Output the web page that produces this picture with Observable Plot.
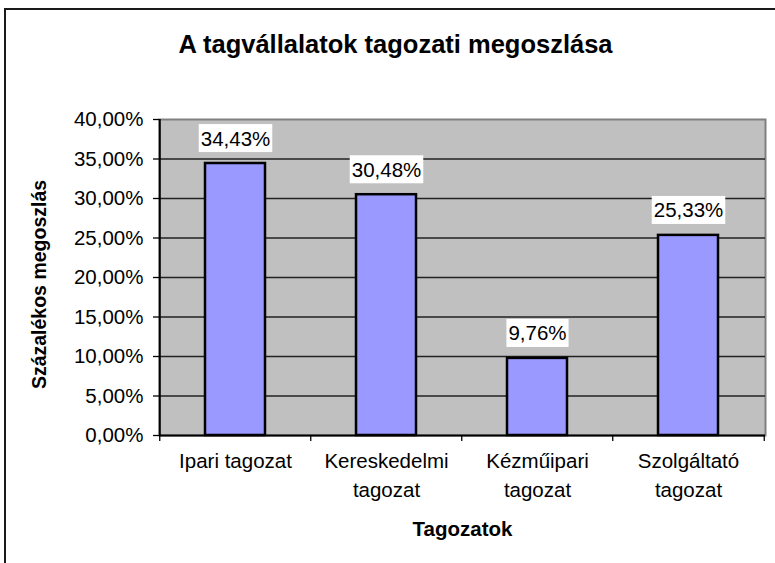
<!DOCTYPE html>
<html><head><meta charset="utf-8">
<script src="https://cdn.jsdelivr.net/npm/d3@7"></script>
<script src="https://cdn.jsdelivr.net/npm/@observablehq/plot@0.6"></script>
<style>
html,body{margin:0;padding:0;background:#fff;}
#wrap{position:relative;width:775px;height:563px;overflow:hidden;}
#frame{position:absolute;left:4px;top:8px;width:800px;height:600px;border-left:2px solid #1a1a1a;border-top:2px solid #1a1a1a;pointer-events:none;}
#chart{position:absolute;left:0;top:0;}
</style></head>
<body><div id="wrap"><div id="chart"></div><div id="frame"></div></div>
<script>
const categories = ["Ipari tagozat", "Kereskedelmi tagozat", "Kézműipari tagozat", "Szolgáltató tagozat"];
const categoryLabels = ["Ipari tagozat", "Kereskedelmi\ntagozat", "Kézműipari\ntagozat", "Szolgáltató\ntagozat"];
const shares = [34.43, 30.48, 9.76, 25.33];
const shareLabels = ["34,43%", "30,48%", "9,76%", "25,33%"];
const yTickValues = [0, 5, 10, 15, 20, 25, 30, 35, 40];
const yTickLabels = ["0,00%", "5,00%", "10,00%", "15,00%", "20,00%", "25,00%", "30,00%", "35,00%", "40,00%"];
const titleText = "A tagvállalatok tagozati megoszlása";
const xTitle = "Tagozatok";
const yTitle = "Százalékos megoszlás";

const W = 775, H = 563, mL = 159, mR = 10, mT = 119, mB = 128;
const step = (W - mL - mR) / categories.length;
const data = categories.map((c, i) => ({cat: c, v: shares[i], txt: shareLabels[i]}));
const font = "'Liberation Sans', Arial, sans-serif";

const plot = Plot.plot({
  width: W, height: H,
  marginLeft: mL, marginRight: mR, marginTop: mT, marginBottom: mB,
  style: {fontFamily: font, fontSize: "20.5px", color: "#000", background: "transparent", overflow: "visible"},
  x: {domain: categories, paddingInner: 0.6, paddingOuter: 0.3, label: null},
  y: {domain: [0, 40], label: null},
  marks: [
    Plot.frame({fill: "#c0c0c0", stroke: "#808080", strokeWidth: 2}),
    Plot.ruleY(yTickValues.slice(1, -1), {stroke: "#222", strokeWidth: 1.3}),
    Plot.barY(data, {x: "cat", y: "v", fill: "#9999ff", stroke: "#000", strokeWidth: 2.5}),
    Plot.ruleY([0], {stroke: "#000", strokeWidth: 2}),
    Plot.ruleX([categories[0]], {x: d => d, dx: -step / 2, y1: 0, y2: 40, stroke: "#000", strokeWidth: 2}),
    Plot.ruleX(categories, {x: d => d, dx: -step / 2, y1: 0, y2: -0.76, stroke: "#000", strokeWidth: 1.3}),
    Plot.ruleX([categories[categories.length - 1]], {x: d => d, dx: step / 2, y1: 0, y2: -0.76, stroke: "#000", strokeWidth: 1.3}),
    Plot.axisY({ticks: yTickValues, tickFormat: d => yTickLabels[yTickValues.indexOf(d)], tickSize: 6, tickPadding: 10, fontSize: 20.5, stroke: "#000", strokeWidth: 1.3, label: null}),
    Plot.axisX({tickSize: 0, tickPadding: 12, tickFormat: d => categoryLabels[categories.indexOf(d)], fontSize: 20.5, lineHeight: 1.4, label: null}),
    Plot.text(data, {x: "cat", y: "v", text: "txt", dy: -24.5, fontSize: 20.5, fill: "#000", ariaDescription: "value-labels"}),
    Plot.text([titleText], {frameAnchor: "top", dx: 395 - (mL + (W - mL - mR) / 2), dy: -85, fontSize: 25.5, fontWeight: "bold", fill: "#000"}),
    Plot.text([xTitle], {frameAnchor: "bottom", dy: 100.5, fontSize: 20.5, fontWeight: "bold", fill: "#000"}),
    Plot.text([yTitle], {frameAnchor: "left", textAnchor: "middle", rotate: -90, dx: -120, dy: 7, fontSize: 19.5, fontWeight: "bold", fill: "#000"})
  ]
});
document.getElementById("chart").appendChild(plot);

d3.select(plot).selectAll('g[aria-description="value-labels"] text').each(function () {
  const b = this.getBBox();
  const px = 2, py = 2.5;
  d3.select(this.parentNode).insert("rect", () => this)
    .attr("x", b.x - px).attr("y", b.y - py)
    .attr("width", b.width + 2 * px).attr("height", b.height + 2 * py)
    .attr("transform", this.getAttribute("transform"))
    .attr("fill", "#fff").attr("stroke", "none");
});
</script>
</body></html>
